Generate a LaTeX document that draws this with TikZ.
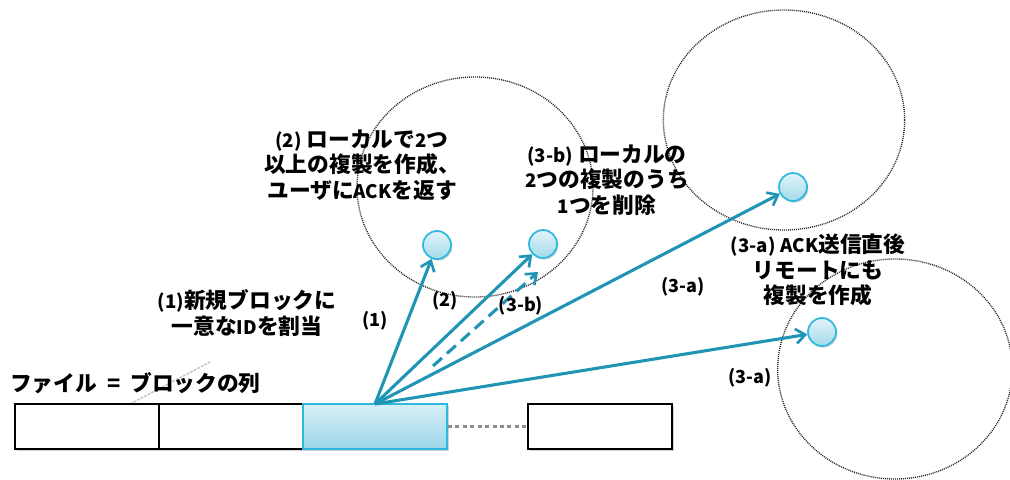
\documentclass[tikz,border=0pt]{standalone}
\usepackage{fontspec}
\setmainfont{Noto Sans CJK JP}
\usetikzlibrary{arrows.meta,shapes.geometric,shadows}
\definecolor{arrowc}{HTML}{1F94B4}
\definecolor{nodeb}{HTML}{2CB9DF}
\definecolor{nodet}{HTML}{E2F3F9}
\definecolor{nodebot}{HTML}{A3DAEB}
\definecolor{boxt}{HTML}{D9EFF7}
\definecolor{boxbot}{HTML}{9BD6E9}
\newcommand\latn[1]{{\fontsize{14}{16}\selectfont #1}}
\begin{document}
\begin{tikzpicture}[x=0.75pt,y=-0.75pt,
  wbox/.style={draw=black, line width=1.1pt, fill=white, minimum width=108pt, minimum height=33.75pt, inner sep=0pt,
    drop shadow={opacity=0.35, shadow xshift=1.2pt, shadow yshift=-1.5pt}},
  bbox/.style={draw=nodeb, line width=1.1pt, top color=boxt, bottom color=boxbot, minimum width=108pt, minimum height=33.75pt, inner sep=0pt,
    drop shadow={opacity=0.35, shadow xshift=1.2pt, shadow yshift=-1.5pt}},
  zone/.style={ellipse, draw=black!85, line width=1pt, dash pattern=on 0.75pt off 0.75pt, inner sep=0pt},
  replica/.style={circle, draw=nodeb, line width=1.3pt, top color=nodet, bottom color=nodebot, minimum size=21pt, inner sep=0pt,
    drop shadow={opacity=0.35, shadow xshift=1pt, shadow yshift=-1.2pt}},
  flow/.style={draw=arrowc, line width=2.3pt, -{Straight Barb[length=7pt, width=11pt, line width=2pt]}},
  desc/.style={align=center, font=\bfseries\fontsize{16.3}{19}\selectfont, inner sep=0pt},
  tag/.style={font=\bfseries\fontsize{13.5}{15}\selectfont, inner sep=0pt}]
\useasboundingbox (0,0) rectangle (1010,479);
\fill[white] (0,0) rectangle (1010,479);

% zones
\node[zone, minimum width=177pt, minimum height=165pt] (z1) at (475,187) {};
\node[zone, minimum width=181pt, minimum height=165pt] (z2) at (784,120) {};
\node[zone, minimum width=176pt, minimum height=165pt] (z3) at (895,369) {};

% faint guide
\draw[black!25, line width=1pt, dash pattern=on 2pt off 1pt] (130,404) -- (210,362);

% blocks
\node[wbox] (b1) at (87,426.5) {};
\node[wbox] (b2) at (231,426.5) {};
\node[bbox] (b3) at (375,426.5) {};
\node[wbox] (b4) at (600,426.5) {};
\draw[black!45, line width=2.2pt, dash pattern=on 3pt off 2.6pt] (b3.east) -- (b4.west);

% replicas
\node[replica] (n1) at (437,245) {};
\node[replica] (n2) at (543,244) {};
\node[replica] (n3) at (793,187) {};
\node[replica] (n4) at (822,332) {};

% arrows
\coordinate (src) at (375,404);
\coordinate (d1) at (433,366);
\coordinate (d2) at (538,272);
\draw[flow] (src) -- (n1);
\draw[flow] (src) -- (n2);
\draw[flow] (src) -- (n3);
\draw[flow] (src) -- (n4);
\draw[flow, dash pattern=on 9pt off 5pt] (d1) -- (d2);

% tags
\node[tag] (t1) at (375,321) {(1)};
\node[tag] (t2) at (445,301) {(2)};
\node[tag] (t3) at (521,306) {(3-b)};
\node[tag] (t4) at (683,287) {(3-a)};
\node[tag] (t5) at (750,378) {(3-a)};

% descriptions
\node[desc, anchor=west] (f) at (10,383) {ファイル\ \ =\ \ ブロックの列};
\node[desc] (l1) at (247,313) {\latn{(1)}新規ブロックに\\一意な\latn{ID}を割当};
\node[desc] (l2) at (362,165) {\latn{(2)} ローカルで\latn{2}つ\\以上の複製を作成、\\ユーザに\latn{ACK}を返す};
\node[desc] (l3) at (607,180) {\latn{(3-b)} ローカルの\\\latn{2}つの複製のうち\\\latn{1}つを削除};
\node[desc] (l4) at (818,270) {\latn{(3-a)} \latn{ACK}送信直後\\リモートにも\\複製を作成};
\end{tikzpicture}
\end{document}
